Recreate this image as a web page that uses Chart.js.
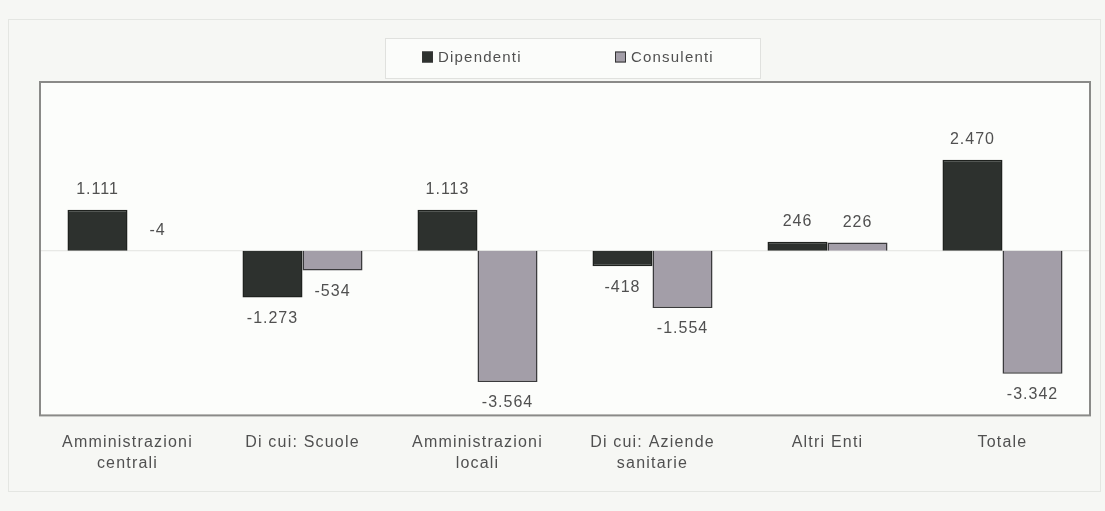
<!DOCTYPE html>
<html lang="it">
<head>
<meta charset="utf-8">
<title>Dipendenti e consulenti</title>
<script src="https://cdn.jsdelivr.net/npm/chart.js@4/dist/chart.umd.min.js"></script>
<style>
  html, body { margin: 0; padding: 0; background: #f6f7f4; }
  #wrap { width: 1105px; height: 511px; position: relative; }
</style>
</head>
<body>
<div id="wrap"><canvas id="myChart"></canvas></div>
<script>
var categorie = [
    ['Amministrazioni', 'centrali'],
    ['Di cui: Scuole'],
    ['Amministrazioni', 'locali'],
    ['Di cui: Aziende', 'sanitarie'],
    ['Altri Enti'],
    ['Totale']
];
var dipendenti = [1111, -1273, 1113, -418, 246, 2470];
var consulenti = [-4, -534, -3564, -1554, 226, -3342];

var serie = ['Dipendenti', 'Consulenti'];
var coloriBarre = ['#2d312e', '#a39ea8'];
var testo = '#505050';
var spaziatura = '1.2px';

function numero(v) {
    // separatore delle migliaia col punto
    var s = Math.abs(v).toString().replace(/\B(?=(\d{3})+(?!\d))/g, '.');
    return (v < 0 ? '-' : '') + s;
}

// cornici, riga dello zero, legenda ed etichette dei valori
var decorazioni = {
    id: 'decorazioni',
    beforeUpdate: function (chart) {
        chart.ctx.letterSpacing = spaziatura;
    },
    beforeDraw: function (chart) {
        var ctx = chart.ctx, a = chart.chartArea;
        ctx.save();
        ctx.fillStyle = '#f6f7f4';
        ctx.fillRect(0, 0, chart.width, chart.height);
        ctx.strokeStyle = '#e4e6e2';
        ctx.lineWidth = 1;
        ctx.strokeRect(8.5, 19.5, 1092, 472);
        ctx.fillStyle = '#fcfdfb';
        ctx.fillRect(a.left, a.top, a.right - a.left, a.bottom - a.top);
        var y0 = chart.scales.y.getPixelForValue(0);
        ctx.strokeStyle = '#e2e3e0';
        ctx.beginPath();
        ctx.moveTo(a.left, y0);
        ctx.lineTo(a.right, y0);
        ctx.stroke();
        ctx.restore();
        ctx.letterSpacing = spaziatura;
    },
    afterDatasetsDraw: function (chart) {
        var ctx = chart.ctx, a = chart.chartArea;
        ctx.save();
        ctx.strokeStyle = '#8a8a88';
        ctx.lineWidth = 2;
        ctx.strokeRect(a.left, a.top, a.right - a.left, a.bottom - a.top);

        // valori sopra/sotto le barre
        ctx.font = '16px "Liberation Sans", Arial, sans-serif';
        ctx.letterSpacing = '1px';
        ctx.fillStyle = testo;
        ctx.textAlign = 'center';
        ctx.textBaseline = 'middle';
        chart.data.datasets.forEach(function (ds, i) {
            chart.getDatasetMeta(i).data.forEach(function (bar, j) {
                var v = ds.data[j];
                var piccola = Math.abs(bar.y - bar.base) < 4;
                var y = (v >= 0 || piccola) ? Math.min(bar.y, bar.base) - 20 : bar.y + 21;
                ctx.fillText(numero(v), bar.x, y);
            });
        });

        // legenda in riquadro
        var lx = 385, ly = 38, lw = 375, lh = 40;
        ctx.fillStyle = '#fbfcfa';
        ctx.fillRect(lx, ly, lw, lh);
        ctx.strokeStyle = '#e0e1de';
        ctx.lineWidth = 1;
        ctx.strokeRect(lx + 0.5, ly + 0.5, lw, lh);
        ctx.font = '15px "Liberation Sans", Arial, sans-serif';
        ctx.letterSpacing = '1.2px';
        ctx.textAlign = 'left';
        var posizioni = [422, 615];
        serie.forEach(function (nome, k) {
            var x = posizioni[k], cy = ly + lh / 2 - 1;
            ctx.fillStyle = coloriBarre[k];
            ctx.fillRect(x, cy - 5.5, 11, 11);
            ctx.strokeStyle = '#333';
            ctx.strokeRect(x + 0.5, cy - 5, 10, 10);
            ctx.fillStyle = testo;
            ctx.fillText(nome, x + 16, cy + 1);
        });
        ctx.restore();
        ctx.letterSpacing = spaziatura;
    }
};

var ctx = document.getElementById('myChart').getContext('2d');
var myChart = new Chart(ctx, {
    type: 'bar',
    data: {
        labels: categorie,
        datasets: [{
            label: serie[0],
            data: dipendenti,
            backgroundColor: coloriBarre[0],
            borderColor: '#1f221f',
            borderWidth: 1.5
        },
        {
            label: serie[1],
            data: consulenti,
            backgroundColor: coloriBarre[1],
            borderColor: '#3a3a3c',
            borderWidth: 1.5
        }]
    },
    options: {
        responsive: true,
        maintainAspectRatio: false,
        animation: false,
        layout: {
            padding: { top: 82, left: 40, right: 15, bottom: 20 }
        },
        datasets: {
            bar: {
                categoryPercentage: 0.686,
                barPercentage: 1.0
            }
        },
        plugins: {
            legend: { display: false },
            tooltip: { enabled: false }
        },
        scales: {
            y: {
                display: false,
                min: -4470,
                max: 4580
            },
            x: {
                grid: { display: false, drawTicks: false },
                border: { display: false },
                ticks: {
                    color: testo,
                    padding: 17,
                    maxRotation: 0,
                    autoSkip: false,
                    font: {
                        family: '"Liberation Sans", Arial, sans-serif',
                        size: 16,
                        lineHeight: 1.3
                    }
                }
            }
        }
    },
    plugins: [decorazioni]
});
</script>
</body>
</html>
